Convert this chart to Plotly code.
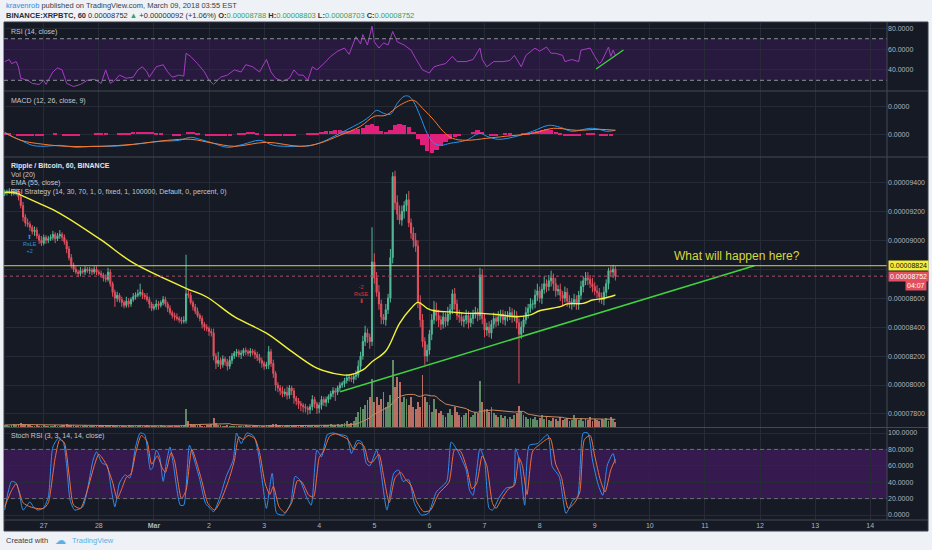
import numpy as np
import pandas as pd
import plotly.graph_objects as go

W, H = 932, 550


def px(x):
    return x / W


def py(y):
    return 1 - y / H


# XRP/BTC hourly candles, prices in satoshi (1e-8 BTC), first bar Feb 26 07:00
bar_start = "2018-02-26 07:00"
first_open = 9320
closes = [
    9330, 9335, 9340, 9325, 9330, 9335, 9300, 9240, 9160, 9120,
    9110, 9090, 9060, 9070, 9030, 9000, 8980, 9020, 9000, 9010,
    9020, 9040, 9010, 9030, 9040, 9020, 8990, 8940, 8880, 8830,
    8800, 8780, 8770, 8790, 8780, 8800, 8790, 8795, 8780, 8800,
    8780, 8770, 8760, 8740, 8730, 8780, 8700, 8640, 8600, 8620,
    8590, 8570, 8550, 8580, 8560, 8590, 8610, 8620, 8630, 8640,
    8620, 8610, 8590, 8560, 8530, 8540, 8560, 8550, 8570, 8590,
    8560, 8530, 8500, 8480, 8470, 8460, 8450, 8440, 8445, 8630,
    8620, 8570, 8540, 8510, 8480, 8460, 8420, 8400, 8390, 8370,
    8360, 8200, 8150, 8170, 8140, 8180, 8160, 8130, 8170, 8200,
    8220, 8230, 8210, 8220, 8240, 8230, 8220, 8235, 8225, 8210,
    8190, 8170, 8150, 8130, 8140, 8230, 8150, 8080, 8000, 7980,
    7960, 7940, 7950, 7930, 7980, 7960, 7910, 7890, 7870, 7860,
    7850, 7840, 7830, 7850, 7900, 7870, 7840, 7860, 7900, 7880,
    7900, 7920, 7940, 7960, 7950, 7980, 8000, 8010, 8030, 8050,
    8050, 8040, 8060, 8070, 8130, 8200, 8300, 8360, 8330, 8300,
    8850, 8740, 8640, 8560, 8470, 8450, 8520, 8600, 8880, 9440,
    9260, 9180, 9140, 9200, 9240, 9280, 9120, 9050, 9000, 8960,
    8570, 8450, 8300, 8200, 8240, 8350, 8450, 8520, 8480, 8450,
    8420, 8470, 8440, 8490, 8520, 8630, 8560, 8480, 8470, 8440,
    8450, 8480, 8430, 8460, 8490, 8500, 8480, 8760, 8460, 8380,
    8400, 8360, 8420, 8460, 8440, 8470, 8490, 8450, 8470, 8480,
    8500, 8470, 8480, 8430, 8350, 8400, 8450, 8500, 8530, 8560,
    8560, 8620, 8650, 8600, 8660, 8700, 8680, 8720, 8740, 8700,
    8650, 8660, 8620, 8600, 8640, 8580, 8560, 8570, 8590, 8560,
    8620, 8680, 8720, 8740, 8730, 8700, 8680, 8650, 8640, 8610,
    8590, 8640, 8700, 8790, 8780, 8800, 8752,
]
wick_hi = [
    20, 15, 20, 15, 25, 20, 15, 20, 25, 20,
    30, 20, 15, 25, 20, 15, 30, 20, 15, 20,
    20, 25, 15, 20, 30, 15, 20, 15, 20, 25,
    15, 20, 15, 25, 15, 20, 15, 20, 15, 20,
    20, 15, 20, 15, 25, 30, 20, 15, 20, 25,
    15, 20, 15, 30, 20, 15, 25, 20, 30, 60,
    20, 15, 25, 20, 15, 20, 30, 20, 15, 25,
    20, 15, 20, 15, 20, 25, 15, 20, 30, 270,
    30, 20, 15, 20, 25, 15, 20, 15, 20, 15,
    20, 30, 20, 60, 20, 25, 15, 20, 30, 20,
    15, 20, 15, 20, 15, 20, 15, 20, 15, 20,
    20, 25, 20, 15, 20, 40, 20, 25, 15, 20,
    20, 30, 25, 40, 20, 15, 20, 15, 20, 20,
    15, 20, 15, 20, 30, 20, 15, 20, 25, 20,
    20, 15, 20, 25, 20, 15, 20, 15, 20, 25,
    20, 25, 20, 30, 40, 30, 40, 50, 30, 25,
    240, 60, 40, 50, 30, 20, 40, 30, 60, 30,
    40, 50, 60, 40, 30, 40, 60, 30, 40, 50,
    40, 50, 40, 30, 40, 30, 40, 60, 50, 40,
    30, 40, 30, 50, 40, 30, 40, 30, 40, 30,
    30, 40, 30, 40, 30, 40, 30, 50, 40, 30,
    30, 40, 30, 40, 30, 40, 30, 30, 40, 30,
    40, 30, 40, 30, 30, 40, 30, 40, 30, 40,
    30, 40, 50, 30, 40, 50, 30, 40, 50, 30,
    40, 30, 40, 30, 40, 30, 40, 30, 40, 30,
    30, 40, 30, 40, 40, 30, 40, 30, 40, 30,
    30, 40, 30, 20, 30, 30, 20,
]
wick_lo = [
    15, 20, 15, 20, 15, 20, 25, 20, 30, 25,
    20, 25, 20, 30, 20, 25, 20, 15, 25, 20,
    15, 20, 30, 15, 20, 25, 20, 30, 20, 25,
    20, 15, 25, 20, 15, 20, 15, 25, 20, 15,
    20, 15, 20, 25, 20, 15, 20, 30, 60, 25,
    20, 30, 20, 15, 25, 20, 15, 20, 15, 20,
    25, 20, 15, 30, 20, 15, 20, 30, 15, 20,
    20, 25, 15, 20, 25, 15, 20, 20, 15, 20,
    20, 15, 25, 20, 15, 20, 30, 25, 20, 30,
    25, 30, 40, 25, 30, 20, 25, 30, 20, 25,
    20, 25, 20, 30, 20, 25, 20, 25, 20, 30,
    25, 20, 30, 25, 20, 30, 25, 30, 40, 30,
    30, 25, 20, 30, 25, 30, 40, 30, 35, 40,
    40, 30, 35, 30, 25, 30, 40, 35, 30, 25,
    30, 25, 20, 25, 60, 20, 25, 20, 25, 20,
    25, 20, 30, 25, 20, 30, 25, 30, 40, 50,
    30, 40, 30, 40, 50, 30, 40, 30, 30, 40,
    50, 40, 30, 40, 50, 40, 30, 40, 50, 40,
    40, 50, 40, 60, 40, 30, 40, 30, 40, 50,
    40, 30, 40, 30, 40, 30, 40, 30, 40, 30,
    40, 30, 40, 30, 40, 30, 40, 30, 40, 50,
    40, 30, 40, 30, 40, 30, 40, 30, 40, 30,
    30, 40, 30, 40, 340, 30, 40, 30, 40, 30,
    40, 30, 40, 30, 40, 30, 40, 30, 40, 50,
    40, 30, 40, 50, 30, 40, 30, 40, 30, 40,
    40, 30, 40, 30, 40, 30, 40, 30, 40, 40,
    30, 40, 30, 40, 30, 40, 30,
]
volume = [
    2, 2, 1, 2, 3, 2, 3, 4, 3, 2,
    2, 2, 1, 1, 2, 1, 1, 2, 1, 1,
    1, 1, 2, 1, 1, 2, 2, 3, 2, 2,
    2, 1, 1, 1, 1, 2, 1, 1, 1, 1,
    1, 1, 2, 1, 1, 2, 2, 2, 1, 1,
    1, 1, 1, 1, 2, 1, 1, 1, 1, 2,
    1, 1, 2, 1, 1, 1, 1, 1, 2, 1,
    1, 1, 1, 1, 1, 1, 1, 2, 2, 18,
    6, 3, 2, 2, 2, 2, 1, 1, 2, 2,
    3, 9, 4, 2, 2, 1, 1, 2, 1, 1,
    1, 1, 1, 1, 1, 2, 1, 1, 1, 1,
    1, 1, 1, 1, 2, 2, 2, 3, 3, 2,
    2, 1, 1, 2, 1, 1, 2, 1, 1, 1,
    2, 2, 1, 1, 2, 1, 1, 1, 1, 2,
    2, 2, 3, 2, 2, 3, 2, 3, 4, 6,
    3, 4, 6, 10, 15, 20, 18, 22, 27, 30,
    48, 25, 30, 22, 28, 35, 20, 25, 32, 67,
    40, 50, 45, 25, 30, 28, 22, 30, 20, 18,
    25, 20, 52, 30, 25, 22, 15, 28, 18, 14,
    16, 12, 10, 14, 18, 12, 20, 15, 12, 10,
    12, 14, 18, 10, 12, 15, 14, 46, 25, 18,
    18, 15, 20, 14, 12, 10, 12, 9, 11, 8,
    10, 8, 12, 14, 21, 16, 12, 10, 8, 9,
    8, 10, 7, 9, 12, 8, 10, 7, 6, 9,
    8, 6, 10, 7, 8, 9, 6, 7, 12, 8,
    7, 9, 6, 8, 7, 10, 6, 8, 7, 6,
    8, 7, 9, 6, 10, 8, 5,
]

# indicator readings, hours counted from Feb 27 00:00
ema_hours = [-17, -12, -10, -2, 7, 25, 39, 62, 71, 83, 97, 109, 119, 126, 133,
             139, 143, 149, 155, 160, 163, 167, 170, 177, 184, 191, 199, 206,
             212, 216, 225, 228, 235, 239, 244, 249]
ema_vals = [9331, 9326, 9312, 9255, 9186, 9002, 8843, 8668, 8608, 8472, 8358,
            8220, 8116, 8081, 8069, 8104, 8161, 8235, 8426, 8530, 8571, 8530,
            8513, 8505, 8495, 8495, 8484, 8472, 8484, 8513, 8541, 8560, 8564,
            8587, 8599, 8622]

rsi_hours = [-17, -15, -14, -12, -11, -10, -7, -5, -2, 0,
             1, 4, 6, 8, 10, 13, 16, 19, 22, 25,
             27, 29, 31, 33, 36, 39, 41, 43, 45, 46,
             49, 52, 54, 56, 59, 61, 62, 64, 67, 70,
             72, 74, 77, 80, 83, 86, 88, 91, 94, 97,
             99, 101, 104, 107, 109, 111, 113, 115, 117, 119,
             122, 125, 128, 131, 133, 135, 136, 138, 139, 141,
             143, 144, 146, 148, 150, 152, 154, 157, 160, 162,
             165, 168, 170, 173, 175, 178, 180, 184, 187, 190,
             191, 193, 196, 200, 203, 205, 208, 210, 214, 216,
             219, 221, 223, 226, 227, 230, 233, 234, 238, 240,
             242, 243, 246, 247, 248, 249]
rsi_vals = [48, 50, 46, 48, 43, 32, 30, 27, 26, 30,
            26, 38, 42, 40, 27, 24, 26, 30, 31, 27,
            40, 27, 30, 35, 32, 33, 40, 43, 38, 33,
            43, 45, 38, 33, 35, 34, 56, 53, 46, 38,
            30, 26, 33, 35, 40, 38, 45, 43, 38, 50,
            38, 32, 29, 32, 40, 35, 35, 30, 43, 40,
            46, 53, 58, 61, 55, 67, 72, 65, 74, 64,
            82, 67, 61, 66, 64, 77, 67, 64, 59, 51,
            40, 37, 43, 45, 46, 53, 48, 48, 50, 61,
            50, 43, 48, 48, 49, 54, 43, 54, 61, 58,
            62, 56, 56, 54, 48, 50, 48, 59, 61, 53,
            46, 48, 62, 53, 59, 54]
rsi_trend_hours = [240.6, 252.5]
rsi_trend_vals = [40.9, 59.1]

# MACD in 1e-9 BTC
macd_hours = [-17, -10, -5, 0, 7, 14, 21, 29, 36, 43, 51, 59, 64, 68, 74, 80,
              87, 94, 100, 106, 112, 117, 123, 129, 135, 139, 142, 145, 148,
              151, 154, 157, 159, 161, 164, 167, 170, 173, 177, 184, 190, 193,
              198, 206, 213, 220, 225, 230, 238, 242, 245, 249]
macd_vals = [1, -6, -11, -12, -11, -13, -12, -12, -11, -9, -7, -6, -3, -5, -9,
             -13, -10, -6, -11, -12, -12, -11, -6, 1, 8, 13, 18, 24, 21, 20,
             31, 38, 38, 33, 18, 1, -9, -11, -9, -6, 1, -2, -5, -2, 3, 9, 7,
             3, 6, 5, 3, 4]
signal_hours = [-17, -10, 0, 10, 25, 39, 54, 64, 74, 83, 97, 112, 120, 129,
                138, 144, 149, 155, 161, 165, 170, 174, 178, 184, 193, 201,
                213, 222, 232, 242, 249]
signal_vals = [2, -6, -10, -12, -12, -10, -6, -5, -9, -12, -8, -12, -9, -1, 8,
               18, 19, 29, 34, 26, 14, 3, -4, -6, -4, -2, 1, 6, 4, 5, 4]
hist_first_hour = -17  # one bar every 2 hours
hist_vals = [
    1, 1, 0, -1, -2, -2, -2, -1, -1, 0,
    0, 1, 0, -1, -1, -1, -1, 0, 0, 0,
    1, 1, 1, 0, 0, 1, 1, 1, 2, 2,
    2, 2, 2, 1, 1, 0, 0, -1, -1, 0,
    2, 2, 1, 0, -1, -2, -2, -2, -1, -1,
    0, 1, 1, 2, 2, 1, 0, -1, -1, -2,
    -2, -2, -1, -1, 0, 0, 1, 1, 1, 2,
    3, 3, 4, 4, 3, 3, 4, 5, 6, 9,
    10, 8, 3, 2, 4, 9, 10, 9, 7, 2,
    -5, -11, -17, -19, -16, -12, -8, -5, -3, -1,
    0, 0, 2, 4, 2, 0, -1, -1, 0, 1,
    1, 0, 0, 1, 1, 2, 3, 4, 5, 4,
    2, 1, -1, -2, -2, -1, 0, 1, 1, 0,
    -1, -1, -1, 0,
]

k_hours = [-17, -15.5, -14, -12, -10.5, -9, -6, -4.5, -2.5, 0,
           2, 4, 6.5, 8.5, 10, 11.5, 13.5, 17, 21.5, 23,
           25.5, 27.5, 29.5, 31, 33, 35.5, 37.5, 40, 42, 44,
           46.5, 47.5, 49, 50.5, 52, 53.5, 55, 56.5, 59.5, 61,
           63.5, 66, 68, 70.5, 72.5, 74, 77, 79.5, 82.5, 84,
           86, 88.5, 91.5, 93.5, 95.5, 97, 99.5, 101.5, 104.5, 107.5,
           109.5, 111.5, 114.5, 116.5, 119, 121, 123.5, 126, 129, 132,
           134, 136.5, 138.5, 140.5, 142, 145, 146.5, 149.5, 152.5, 154.5,
           156.5, 159, 161.5, 164.5, 167.5, 171, 175.5, 177.5, 180.5, 184,
           185.5, 187, 190, 192, 194, 195.5, 198.5, 201.5, 204.5, 205.5,
           207, 209.5, 211.5, 215, 219.5, 221.5, 224.5, 227.5, 230.5, 232.5,
           235, 237, 239, 241.5, 243.5, 245.5, 248, 249]
k_vals = [6, 28, 41, 39, 25, 6, 16, 10, 6, 9,
          22, 83, 94, 89, 60, 18, 6, 10, 67, 77,
          63, 61, 30, 10, 39, 49, 45, 83, 100, 98,
          55, 58, 79, 71, 41, 65, 83, 61, 12, 12,
          85, 63, 43, 14, 8, 4, 24, 47, 67, 100,
          87, 100, 96, 75, 35, 8, 51, 2, 0, 14,
          47, 43, 22, 12, 79, 71, 98, 100, 98, 96,
          75, 91, 89, 63, 60, 79, 60, 6, 51, 55,
          41, 43, 14, 0, 2, 28, 41, 89, 77, 55,
          30, 24, 81, 67, 8, 6, 22, 33, 35, 81,
          69, 12, 85, 87, 98, 59, 47, 2, 18, 22,
          100, 100, 67, 37, 24, 61, 75, 63]
d_hours = [-17, -14, -12, -9, -6, -3, 0, 2, 5, 7,
           9, 11, 13, 16, 19, 22, 24, 27, 30, 32,
           34, 36, 38, 40, 42.5, 45, 47, 49.5, 51.5, 53,
           55.5, 57, 60, 62, 64.5, 67, 69, 71.5, 74.5, 77.5,
           80.5, 83, 85, 87, 89, 92, 94, 96.5, 98.5, 100,
           102.5, 105, 108, 110.5, 112.5, 115.5, 117.5, 120, 122, 124.5,
           127, 130, 132.5, 135, 137, 139.5, 141.5, 143, 146, 148,
           150.5, 153, 155.5, 157.5, 160, 162.5, 165.5, 168.5, 172, 176.5,
           179, 181.5, 184.5, 186.5, 188.5, 191, 193, 195.5, 197, 199.5,
           202.5, 205, 207, 208.5, 210.5, 213, 216, 220.5, 223, 225.5,
           228.5, 231.5, 233.5, 235.5, 238, 240, 242.5, 244.5, 247, 249]
d_vals = [10, 30, 38, 15, 10, 8, 8, 15, 70, 92,
          88, 50, 12, 8, 30, 60, 74, 63, 40, 20,
          32, 46, 50, 75, 97, 90, 62, 72, 58, 52,
          76, 66, 20, 30, 80, 60, 40, 14, 6, 20,
          42, 66, 95, 92, 97, 93, 76, 38, 25, 35,
          10, 3, 15, 42, 40, 24, 22, 70, 78, 96,
          99, 96, 92, 80, 88, 84, 65, 64, 74, 48,
          15, 45, 52, 44, 36, 16, 4, 6, 26, 40,
          80, 78, 55, 32, 38, 72, 60, 14, 8, 20,
          32, 36, 70, 60, 25, 78, 86, 94, 62, 46,
          8, 16, 28, 92, 97, 72, 42, 28, 55, 68]

trend_hours = [129.1, 309.5]
trend_prices = [7954, 8824]
level_price = 8824
last_price = 8752
signal_le = (-6, 8974, "RsLE")
signal_se = (138, 8629, "RsSE")

day_labels = ["27", "28", "<b>Mar</b>", "2", "3", "4", "5", "6", "7", "8",
              "9", "10", "11", "12", "13", "14"]
price_ticks = [7800, 8000, 8200, 8400, 8600, 8800, 9000, 9200, 9400]

assert len(closes) == len(wick_hi) == len(wick_lo) == len(volume) == 267
assert len(rsi_hours) == len(rsi_vals)
assert len(k_hours) == len(k_vals) and len(d_hours) == len(d_vals)
assert len(macd_hours) == len(macd_vals) and len(signal_hours) == len(signal_vals)
assert len(ema_hours) == len(ema_vals)

T0 = pd.Timestamp("2018-02-27")


def at(hours):
    return T0 + pd.to_timedelta(np.asarray(hours, dtype=float), unit="h")


times = pd.date_range(bar_start, periods=len(closes), freq="h")
opens = [first_open] + closes[:-1]
highs = [max(o, c) + w for o, c, w in zip(opens, closes, wick_hi)]
lows = [min(o, c) - w for o, c, w in zip(opens, closes, wick_lo)]
vol_colors = ["rgba(112,168,118,0.8)" if c >= o else "rgba(228,130,112,0.8)"
              for o, c in zip(opens, closes)]
vol_ma = pd.Series(volume).rolling(20, min_periods=1).mean()
hist_hours = [hist_first_hour + 2 * k for k in range(len(hist_vals))]

FONT = "Liberation Sans"
DARK = "#151a25"
GRID = "#262b37"
SEP = "#444855"
LABEL = "#b2b5be"

fig = go.Figure()

# RSI pane
fig.add_trace(go.Scatter(x=at(rsi_hours), y=rsi_vals, xaxis="x2", yaxis="y2",
                         mode="lines", line=dict(color="#a53cc4", width=1)))
fig.add_trace(go.Scatter(x=at(rsi_trend_hours), y=rsi_trend_vals, xaxis="x2", yaxis="y2",
                         mode="lines", line=dict(color="#3fd23f", width=1.3)))

# MACD pane
fig.add_trace(go.Bar(x=at(hist_hours), y=hist_vals, xaxis="x3", yaxis="y3",
                     width=2 * 3600 * 1000 * 0.95, marker=dict(color="#e0207a", line_width=0)))
fig.add_trace(go.Scatter(x=at(macd_hours), y=macd_vals, xaxis="x3", yaxis="y3", mode="lines",
                         line=dict(color="#2196f3", width=1, shape="spline")))
fig.add_trace(go.Scatter(x=at(signal_hours), y=signal_vals, xaxis="x3", yaxis="y3", mode="lines",
                         line=dict(color="#ff7a2a", width=1, shape="spline")))

# main pane
fig.add_trace(go.Candlestick(x=times, open=opens, high=highs, low=lows, close=closes,
                             xaxis="x4", yaxis="y4", whiskerwidth=0,
                             increasing=dict(line=dict(color="#53b996", width=1), fillcolor="#53b996"),
                             decreasing=dict(line=dict(color="#e2505f", width=1), fillcolor="#e2505f")))
fig.add_trace(go.Bar(x=times, y=volume, xaxis="x4", yaxis="y5", width=3600 * 1000 * 0.8,
                     marker=dict(color=vol_colors, line_width=0)))
fig.add_trace(go.Scatter(x=times, y=vol_ma, xaxis="x4", yaxis="y5", mode="lines",
                         line=dict(color="#c98a5e", width=1)))
fig.add_trace(go.Scatter(x=at(ema_hours), y=ema_vals, xaxis="x4", yaxis="y4", mode="lines",
                         line=dict(color="#f2f23a", width=1.4, shape="spline")))
fig.add_trace(go.Scatter(x=at(trend_hours), y=trend_prices, xaxis="x4", yaxis="y4", mode="lines",
                         line=dict(color="#3fd23f", width=1.5)))

# Stoch RSI pane
fig.add_trace(go.Scatter(x=at(k_hours), y=k_vals, xaxis="x", yaxis="y", mode="lines",
                         line=dict(color="#2e8ff0", width=1, shape="spline", smoothing=0.6)))
fig.add_trace(go.Scatter(x=at(d_hours), y=d_vals, xaxis="x", yaxis="y", mode="lines",
                         line=dict(color="#f0703c", width=1, shape="spline", smoothing=0.6)))

tick_font = dict(family=FONT, size=7, color=LABEL)
xcommon = dict(type="date", range=list(at([-17.3, 367.3])), domain=[px(4), px(887)],
               tickvals=list(at([24 * d for d in range(len(day_labels))])), ticktext=day_labels,
               showgrid=True, gridcolor=GRID, gridwidth=1, zeroline=False, showline=False,
               ticks="", tickfont=tick_font, rangeslider=dict(visible=False))
ycommon = dict(side="right", showgrid=True, gridcolor=GRID, gridwidth=1, zeroline=False,
               showline=False, ticks="", tickfont=tick_font, fixedrange=True)

fig.update_layout(
    width=W, height=H, margin=dict(l=0, r=0, t=0, b=0),
    paper_bgcolor="#eef1f5", plot_bgcolor=DARK, showlegend=False, hovermode=False,
    bargap=0,
    xaxis=dict(xcommon, anchor="y"),
    xaxis2=dict(xcommon, anchor="y2", matches="x", showticklabels=False),
    xaxis3=dict(xcommon, anchor="y3", matches="x", showticklabels=False),
    xaxis4=dict(xcommon, anchor="y4", matches="x", showticklabels=False),
    yaxis=dict(ycommon, anchor="x", domain=[py(520), py(428)], range=[-6.1, 106.1],
               tickvals=[0, 20, 40, 60, 80, 100],
               ticktext=[f"{v:.4f}" for v in [0, 20, 40, 60, 80, 100]]),
    yaxis2=dict(ycommon, anchor="x2", domain=[py(91), py(22)], range=[19.7, 86.1],
                tickvals=[40, 60, 80], ticktext=[f"{v:.4f}" for v in [40, 60, 80]]),
    yaxis3=dict(ycommon, anchor="x3", domain=[py(157), py(91)], range=[-22.7, 43.3],
                tickvals=[0, 27.6], ticktext=["0.0000", "0.0000"]),
    yaxis4=dict(ycommon, anchor="x4", domain=[py(427), py(157)], range=[7710, 9575],
                tickvals=price_ticks,
                ticktext=["" if v == 8800 else f"{v / 1e8:.8f}" for v in price_ticks]),
    yaxis5=dict(overlaying="y4", anchor="x4", range=[0, 270], visible=False, fixedrange=True),
)

shapes = [
    dict(type="rect", xref="paper", yref="paper", x0=px(4), x1=px(928), y0=py(531), y1=py(22),
         fillcolor=DARK, line=dict(color="#3a3e4a", width=1), layer="below"),
    dict(type="rect", xref="x2 domain", yref="y2", x0=0, x1=1, y0=30, y1=70,
         fillcolor="#281a3e", line_width=0, layer="below"),
    dict(type="rect", xref="x domain", yref="y", x0=0, x1=1, y0=20, y1=80,
         fillcolor="#36194f", line_width=0, layer="below"),
]
for lvl in (30, 70):
    shapes.append(dict(type="line", xref="x2 domain", yref="y2", x0=0, x1=1, y0=lvl, y1=lvl,
                       line=dict(color="#8d909a", width=1, dash="4px,3px")))
for lvl in (20, 80):
    shapes.append(dict(type="line", xref="x domain", yref="y", x0=0, x1=1, y0=lvl, y1=lvl,
                       line=dict(color="#6d6f7a", width=1, dash="4px,3px")))
shapes.append(dict(type="line", xref="x4 domain", yref="y4", x0=0, x1=1, y0=level_price,
                   y1=level_price, line=dict(color="#d4d448", width=1)))
shapes.append(dict(type="line", xref="x4 domain", yref="y4", x0=0, x1=1, y0=last_price,
                   y1=last_price, line=dict(color="#b04a64", width=1, dash="dot")))
for yy in (91, 157, 427.5, 520):
    shapes.append(dict(type="line", xref="paper", yref="paper", x0=px(4), x1=px(928),
                       y0=py(yy), y1=py(yy), line=dict(color=SEP, width=1)))
shapes.append(dict(type="line", xref="paper", yref="paper", x0=px(887), x1=px(887),
                   y0=py(520), y1=py(22), line=dict(color=SEP, width=1)))
fig.update_layout(shapes=shapes)

ann = []


def label(x, y, text, size=7, color="#c5c8d0", **kw):
    ann.append(dict(xref="paper", yref="paper", x=px(x), y=py(y), text=text, showarrow=False,
                    xanchor=kw.pop("xanchor", "left"), yanchor="middle",
                    font=dict(family=FONT, size=size, color=color), **kw))


label(4, 6, '<span style="color:#2a8fe0">kravenrob</span> published on TradingView.com, '
      'March 09, 2018 03:55 EST', size=7.5, color="#3a3e48")
g = "#2ca55a"
label(4, 15.5, f'<b>BINANCE:XRPBTC, 60</b> 0.00008752 <span style="color:{g}">▲</span> '
      f'+0.00000092 (+1.06%) <b>O:</b><span style="color:{g}">0.00008788</span> '
      f'<b>H:</b><span style="color:{g}">0.00008803</span> '
      f'<b>L:</b><span style="color:{g}">0.00008703</span> '
      f'<b>C:</b><span style="color:{g}">0.00008752</span>', size=7.5, color="#2a2e39")
label(9, 32, "RSI (14, close)")
label(9, 100.5, "MACD (12, 26, close, 9)")
label(9, 166, "<b>Ripple / Bitcoin, 60, BINANCE</b>", color="#e0e3eb")
label(9, 174.5, "Vol (20)")
label(9, 183, "EMA (55, close)")
label(9, 192, "RSI Strategy (14, 30, 70, 1, 0, fixed, 1, 100000, Default, 0, percent, 0)")
label(9, 436.5, "Stoch RSI (3, 3, 14, 14, close)")
label(888, 265.5, f"{level_price / 1e8:.8f}", color="#111111", bgcolor="#f2ee3c", borderpad=1)
label(888, 276.5, f"{last_price / 1e8:.8f}", color="#ffffff", bgcolor="#e24f5e", borderpad=1)
label(927, 285.5, "04:07", color="#ffffff", bgcolor="#e24f5e", borderpad=1, xanchor="right")
label(4, 540.5, "Created with", size=7.5, color="#3a3e48")
label(53, 540, "☁", size=11, color="#5bb0e6")
label(70, 540.5, "TradingView", size=7.5, color="#5bb0e6")

ann.append(dict(xref="x4", yref="y4", x=at([302])[0], y=8891, text="What will happen here?",
                showarrow=False, font=dict(family=FONT, size=12, color="#d8d83c")))
for (h, p, name), col, txt in [(signal_le, "#2a8fe0", "⬆<br>{}<br>+2"),
                               (signal_se, "#e0323c", "-2<br>{}<br>⬇")]:
    ann.append(dict(xref="x4", yref="y4", x=at([h])[0], y=p, text=txt.format(name),
                    showarrow=False, font=dict(family=FONT, size=5.5, color=col)))
fig.update_layout(annotations=ann)

# drop the browser's default page margin so the 932x550 figure fills the window
fig.write_html("out.html", config={"displayModeBar": False},
               post_script="document.body.style.margin='0px';")
